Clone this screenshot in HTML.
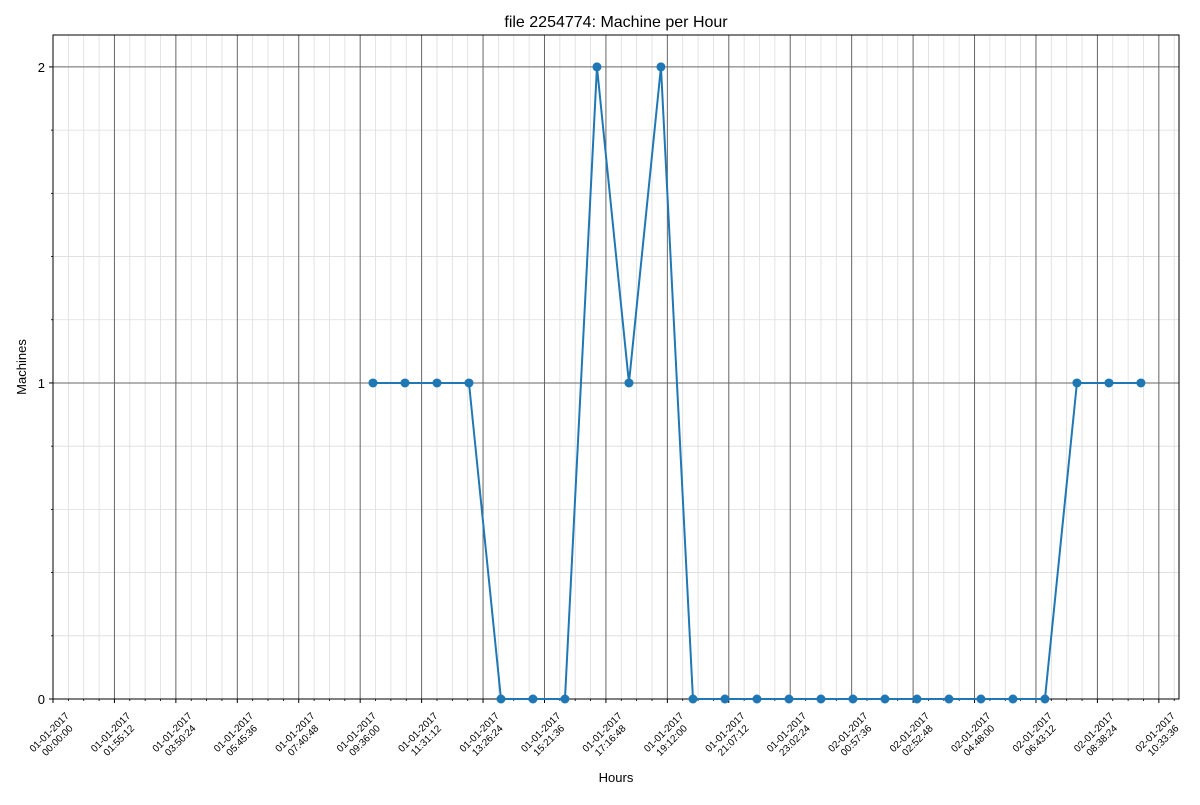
<!DOCTYPE html>
<html><head><meta charset="utf-8"><style>
html,body{margin:0;padding:0;background:#fff;}
svg text{font-family:"Liberation Sans","DejaVu Sans",sans-serif;}
</style></head><body>
<svg id="chart" width="1200" height="800" xmlns="http://www.w3.org/2000/svg">
<text x="616" y="27" text-anchor="middle" font-size="16" fill="#000">file 2254774: Machine per Hour</text>
<text x="616" y="782" text-anchor="middle" font-size="13" fill="#000">Hours</text>
<text transform="translate(26,367) rotate(-90)" text-anchor="middle" font-size="13" fill="#000">Machines</text>
<g id="grid"></g><g id="axes"></g><g id="series"></g>
</svg>
<script>
const hours = [10,11,12,13,14,15,16,17,18,19,20,21,22,23,24,25,26,27,28,29,30,31,32,33,34];
const machines = [1,1,1,1,0,0,0,2,1,2,0,0,0,0,0,0,0,0,0,0,0,0,1,1,1];
const xTickLabels = ["01-01-2017|00:00:00","01-01-2017|01:55:12","01-01-2017|03:50:24","01-01-2017|05:45:36","01-01-2017|07:40:48","01-01-2017|09:36:00","01-01-2017|11:31:12","01-01-2017|13:26:24","01-01-2017|15:21:36","01-01-2017|17:16:48","01-01-2017|19:12:00","01-01-2017|21:07:12","01-01-2017|23:02:24","02-01-2017|00:57:36","02-01-2017|02:52:48","02-01-2017|04:48:00","02-01-2017|06:43:12","02-01-2017|08:38:24","02-01-2017|10:33:36"];
const yTickLabels = ["0","1","2"];
const L=53,R=1179,T=35,B=699, XMAX=35.19, YMAX=2.101, XSTEP=1.92;
const sx=v=>L+(R-L)*v/XMAX, sy=v=>B-(B-T)*v/YMAX;
const NS="http://www.w3.org/2000/svg";
function mk(tag,attrs,parent){const e=document.createElementNS(NS,tag);for(const k in attrs)e.setAttribute(k,attrs[k]);parent.appendChild(e);return e;}
const grid=document.getElementById('grid'),axes=document.getElementById('axes'),ser=document.getElementById('series');
for(let i=0;i*XSTEP/4<=XMAX;i++){const x=sx(i*XSTEP/4);if(i%4===0)continue;
 const g=mk('line',{x1:x,x2:x,y1:T,y2:B,stroke:'#ddd','stroke-width':0.8},grid);
 
 const t=mk('line',{x1:x,x2:x,y1:B,y2:B+2,stroke:'#000','stroke-width':0.8},axes);
 }
for(let i=1;i*0.2<YMAX;i++){if(i%5===0)continue;const y=sy(i*0.2);
 const g=mk('line',{x1:L,x2:R,y1:y,y2:y,stroke:'#ddd','stroke-width':0.8},grid);
 
 const t=mk('line',{x1:L-2,x2:L,y1:y,y2:y,stroke:'#000','stroke-width':0.8},axes);
 }
xTickLabels.forEach((lab,i)=>{const x=sx(i*XSTEP);
 const g=mk('line',{x1:x,x2:x,y1:T,y2:B,stroke:'#666','stroke-width':1},grid);
 
 mk('line',{x1:x,x2:x,y1:B,y2:B+4,stroke:'#000','stroke-width':1},axes);
 const parts=lab.split('|');
 const t=mk('text',{transform:`translate(${x},${B+37}) rotate(-45)`,'text-anchor':'middle','font-size':10,fill:'#000'},axes);
 
 const a=mk('tspan',{x:0,y:-2},t);a.textContent=parts[0];
 const b=mk('tspan',{x:0,y:9.5},t);b.textContent=parts[1];});
yTickLabels.forEach((lab,i)=>{const y=sy(+lab);
 const g=mk('line',{x1:L,x2:R,y1:y,y2:y,stroke:'#666','stroke-width':1},grid);
 
 mk('line',{x1:L-4,x2:L,y1:y,y2:y,stroke:'#000','stroke-width':1},axes);
 const t=mk('text',{x:L-8,y:y+5,'text-anchor':'end','font-size':13,fill:'#000'},axes);
 t.textContent=lab;
 });
const fr=mk('rect',{x:L,y:T,width:R-L,height:B-T,fill:'none',stroke:'#000','stroke-width':1},axes);

const pl=mk('polyline',{points:hours.map((h,i)=>sx(h)+','+sy(machines[i])).join(' '),fill:'none',stroke:'#1f77b4','stroke-width':2},ser);

hours.forEach((h,i)=>{const c=mk('circle',{cx:sx(h),cy:sy(machines[i]),r:4.5,fill:'#1f77b4'},ser);
 });
</script>
</body></html>
